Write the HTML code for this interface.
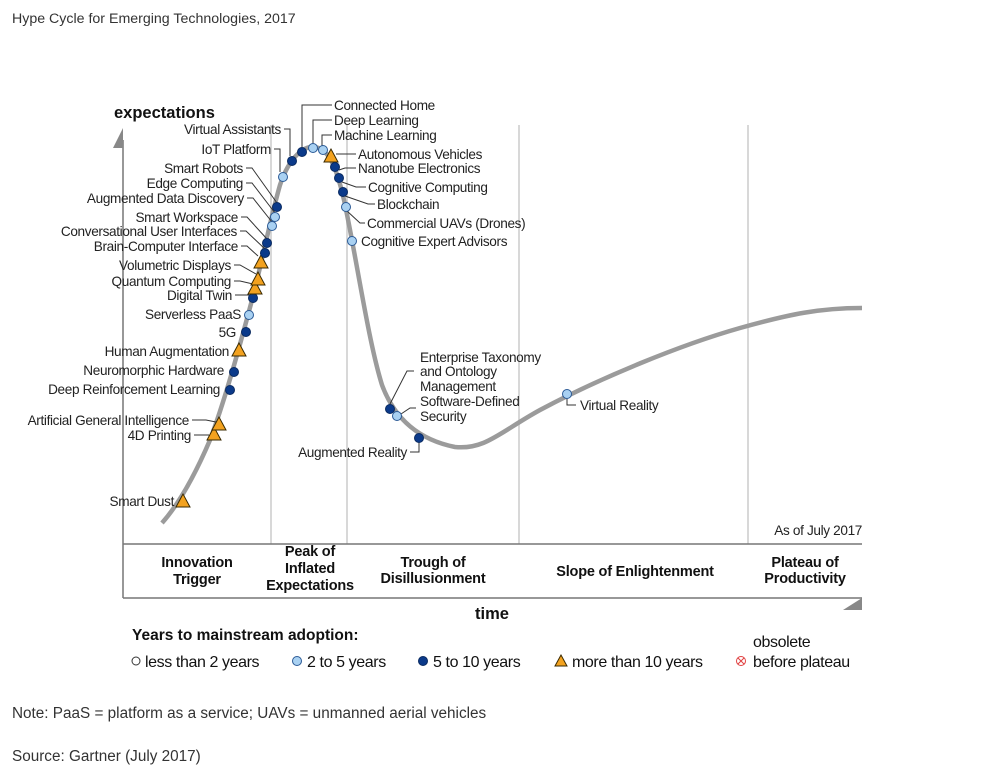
<!DOCTYPE html>
<html><head><meta charset="utf-8"><style>
html,body{margin:0;padding:0;background:#fff;}
svg{display:block;font-family:"Liberation Sans",Arial,sans-serif;}
.l{font-size:13.6px;fill:#222;letter-spacing:-0.35px;}
.b{font-weight:bold;font-size:14.5px;fill:#111;letter-spacing:-0.2px;}
.ld{stroke:#333;stroke-width:1;fill:none;}
.dk{fill:#0b3a8a;stroke:#0a2a60;stroke-width:1;}
.lt{fill:#a9d1f2;stroke:#2b5a96;stroke-width:1;}
.tr{fill:#f3a21f;stroke:#3a2a00;stroke-width:1;}
</style></head><body>
<svg width="1005" height="778" viewBox="0 0 1005 778">
<text x="12" y="23" font-size="14.2" fill="#333">Hype Cycle for Emerging Technologies, 2017</text>
<g stroke="#d8d8d8" stroke-width="2">
<line x1="271" y1="125" x2="271" y2="544"/><line x1="347" y1="125" x2="347" y2="544"/>
<line x1="519" y1="125" x2="519" y2="544"/><line x1="748" y1="125" x2="748" y2="544"/>
</g>
<line x1="123" y1="140" x2="123" y2="598" stroke="#777" stroke-width="1.5"/>
<polygon points="113,148 123,128 123,148" fill="#888"/>
<line x1="123" y1="544" x2="862" y2="544" stroke="#777" stroke-width="1.5"/>
<line x1="123" y1="598" x2="862" y2="598" stroke="#777" stroke-width="1.5"/>
<polygon points="843,610 862,598 862,610" fill="#888"/>
<text x="114" y="118" font-size="16.5" font-weight="bold" fill="#111">expectations</text>
<text x="492" y="619" font-size="16.5" font-weight="bold" fill="#111" text-anchor="middle">time</text>
<text x="862" y="535" class="l" text-anchor="end">As of July 2017</text>
<path d="M162,523 C178,505 195,475 210,440 C225,400 240,345 252,300 C262,262 270,220 280,185 C290,155 305,146 314,147 C328,148 336,165 344,200 C356,255 368,340 382,385 C395,420 420,440 455,447 C485,450 500,432 540,410 C600,378 680,345 740,328 C790,314 820,308 862,308" stroke="#9b9b9b" stroke-width="4.5" fill="none"/>
<g class="ld">
<path d="M284,129 H290 V156"/><path d="M274,149 H280 V172"/>
<path d="M246,168 H252 L277,203"/><path d="M246,183 H252 L275,213"/><path d="M247,198 H253 L272,222"/>
<path d="M241,217 H247 L267,239"/><path d="M240,231 H246 L265,249"/><path d="M241,246 H247 L258,256"/>
<path d="M234,265 H240 L256,274"/><path d="M234,281 H240 L253,284"/><path d="M235,295 H249"/>
<path d="M192,420 H206 L216,422"/><path d="M194,435 H209"/>
<path d="M302,148 V105 H332"/><path d="M313,144 V120 H332"/><path d="M322,146 V135 H332"/>
<path d="M336,154 H356"/><path d="M339,170 L345,168 H356"/><path d="M342,182 L356,187 H366"/>
<path d="M345,196 L368,204 H375"/><path d="M347,211 L360,223 H365"/>
<path d="M390,404 L407,371 H414"/><path d="M401,414 L410,408 H416"/>
<path d="M419,442 V452 H410"/><path d="M567,399 V405 H576"/>
</g>
<g>
<polygon class="tr" points="183,494 176,507 190,507"/>
<polygon class="tr" points="214,427 207,440 221,440"/>
<polygon class="tr" points="219,417 212,430 226,430"/>
<circle class="dk" cx="230" cy="390" r="4.5"/>
<circle class="dk" cx="234" cy="372" r="4.5"/>
<polygon class="tr" points="239,343 232,356 246,356"/>
<circle class="dk" cx="246" cy="332" r="4.5"/>
<circle class="lt" cx="249" cy="315" r="4.5"/>
<circle class="dk" cx="253" cy="298" r="4.5"/>
<polygon class="tr" points="255,281 248,294 262,294"/>
<polygon class="tr" points="258,272 251,285 265,285"/>
<polygon class="tr" points="261,255 254,268 268,268"/>
<circle class="dk" cx="265" cy="253" r="4.5"/>
<circle class="dk" cx="267" cy="243" r="4.5"/>
<circle class="lt" cx="272" cy="226" r="4.5"/>
<circle class="lt" cx="275" cy="217" r="4.5"/>
<circle class="dk" cx="277" cy="207" r="4.5"/>
<circle class="lt" cx="283" cy="177" r="4.5"/>
<circle class="dk" cx="292" cy="161" r="4.5"/>
<circle class="dk" cx="302" cy="152" r="4.5"/>
<circle class="lt" cx="313" cy="148" r="4.5"/>
<circle class="lt" cx="323" cy="150" r="4.5"/>
<polygon class="tr" points="331,149 324,162 338,162"/>
<circle class="dk" cx="335" cy="167" r="4.5"/>
<circle class="dk" cx="339" cy="178" r="4.5"/>
<circle class="dk" cx="343" cy="192" r="4.5"/>
<circle class="lt" cx="346" cy="207" r="4.5"/>
<circle class="lt" cx="352" cy="241" r="4.5"/>
<circle class="dk" cx="390" cy="409" r="4.5"/>
<circle class="lt" cx="397" cy="416" r="4.5"/>
<circle class="dk" cx="419" cy="438" r="4.5"/>
<circle class="lt" cx="567" cy="394" r="4.5"/>
</g>
<g class="l" text-anchor="end">
<text x="281" y="134">Virtual Assistants</text>
<text x="271" y="154">IoT Platform</text>
<text x="243" y="173">Smart Robots</text>
<text x="243" y="188">Edge Computing</text>
<text x="244" y="203">Augmented Data Discovery</text>
<text x="238" y="222">Smart Workspace</text>
<text x="237" y="236">Conversational User Interfaces</text>
<text x="238" y="251">Brain-Computer Interface</text>
<text x="231" y="270">Volumetric Displays</text>
<text x="231" y="286">Quantum Computing</text>
<text x="232" y="300">Digital Twin</text>
<text x="241" y="319">Serverless PaaS</text>
<text x="236" y="337">5G</text>
<text x="229" y="356">Human Augmentation</text>
<text x="224" y="375">Neuromorphic Hardware</text>
<text x="220" y="394">Deep Reinforcement Learning</text>
<text x="189" y="425">Artificial General Intelligence</text>
<text x="191" y="440">4D Printing</text>
<text x="174" y="506">Smart Dust</text>
<text x="407" y="457">Augmented Reality</text>
</g>
<g class="l">
<text x="334" y="110">Connected Home</text>
<text x="334" y="125">Deep Learning</text>
<text x="334" y="140">Machine Learning</text>
<text x="358" y="159">Autonomous Vehicles</text>
<text x="358" y="173">Nanotube Electronics</text>
<text x="368" y="192">Cognitive Computing</text>
<text x="377" y="209">Blockchain</text>
<text x="367" y="228">Commercial UAVs (Drones)</text>
<text x="361" y="246">Cognitive Expert Advisors</text>
<text x="420" y="362">Enterprise Taxonomy</text>
<text x="420" y="376">and Ontology</text>
<text x="420" y="391">Management</text>
<text x="420" y="406">Software-Defined</text>
<text x="420" y="421">Security</text>
<text x="580" y="410">Virtual Reality</text>
</g>
<g class="b" text-anchor="middle">
<text x="197" y="567">Innovation</text><text x="197" y="584">Trigger</text>
<text x="310" y="556">Peak of</text><text x="310" y="573">Inflated</text><text x="310" y="590">Expectations</text>
<text x="433" y="567">Trough of</text><text x="433" y="583">Disillusionment</text>
<text x="635" y="576">Slope of Enlightenment</text>
<text x="805" y="567">Plateau of</text><text x="805" y="583">Productivity</text>
</g>
<text x="132" y="640" font-size="15.5" font-weight="bold" fill="#111">Years to mainstream adoption:</text>
<g font-size="16" fill="#111" letter-spacing="-0.4">
<circle cx="136" cy="661" r="4" fill="#fff" stroke="#333"/><text x="145" y="667">less than 2 years</text>
<circle cx="297" cy="661" r="4.5" class="lt"/><text x="307" y="667">2 to 5 years</text>
<circle cx="423" cy="661" r="4.5" class="dk"/><text x="433" y="667">5 to 10 years</text>
<polygon class="tr" points="561,655 555,666 567,666"/><text x="572" y="667">more than 10 years</text>
<circle cx="741" cy="661" r="4.5" fill="#fff" stroke="#e04040"/>
<path d="M738,658 L744,664 M744,658 L738,664" stroke="#e04040" stroke-width="1"/>
<text x="753" y="647">obsolete</text><text x="753" y="667">before plateau</text>
</g>
<text x="12" y="718" font-size="15.3" fill="#333">Note: PaaS = platform as a service; UAVs = unmanned aerial vehicles</text>
<text x="12" y="761" font-size="15.3" fill="#333">Source: Gartner (July 2017)</text>
</svg>
</body></html>
